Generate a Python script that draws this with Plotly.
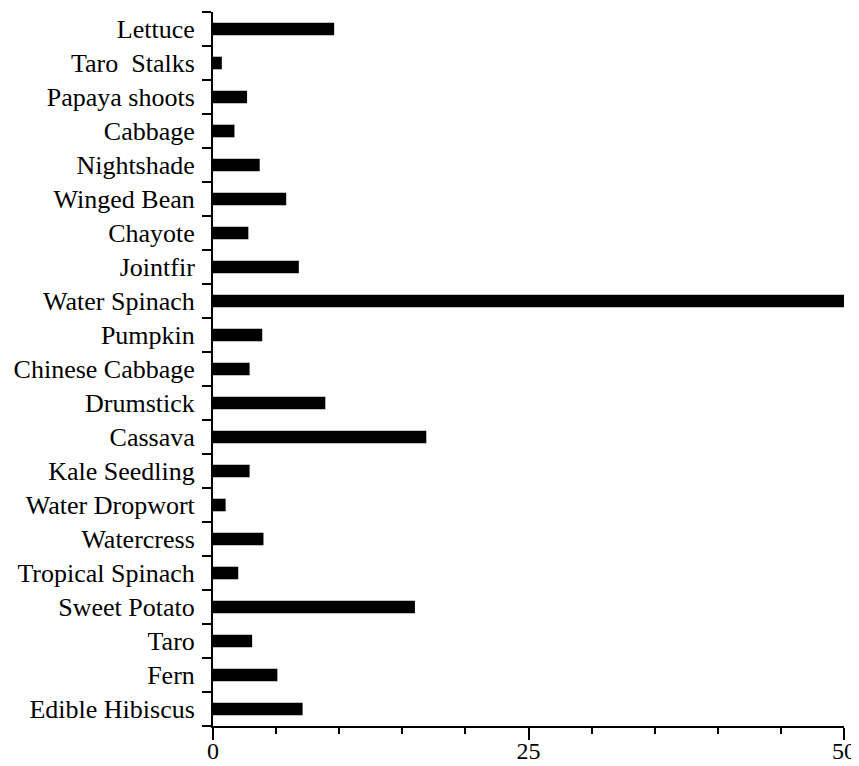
import plotly.graph_objects as go

categories = ["Lettuce", "Taro  Stalks", "Papaya shoots", "Cabbage", "Nightshade",
              "Winged Bean", "Chayote", "Jointfir", "Water Spinach", "Pumpkin",
              "Chinese Cabbage", "Drumstick", "Cassava", "Kale Seedling",
              "Water Dropwort", "Watercress", "Tropical Spinach", "Sweet Potato",
              "Taro", "Fern", "Edible Hibiscus"]
values = [9.6, 0.7, 2.7, 1.7, 3.7, 5.8, 2.8, 6.8, 50, 3.9, 2.9, 8.9, 16.9, 2.9,
          1.0, 4.0, 2.0, 16.0, 3.1, 5.1, 7.1]
x_tick_vals = [0, 25, 50]
x_tick_text = ["0", "25", "50"]

fig = go.Figure(go.Bar(
    y=categories, x=values, orientation="h",
    marker=dict(color="black", line=dict(width=0)),
    width=0.37,
))

font = "Liberation Serif, Times New Roman, serif"
fig.update_layout(
    width=852, height=757,
    margin=dict(l=205, r=16, t=4, b=39, autoexpand=False),
    paper_bgcolor="white", plot_bgcolor="white",
    showlegend=False,
    font=dict(family=font, color="black", size=26),
)
fig.update_xaxes(
    range=[0, 50], tickvals=x_tick_vals, ticktext=x_tick_text,
    showgrid=False, zeroline=False, showline=True, linecolor="black", linewidth=2,
    ticks="outside", ticklen=12, tickwidth=2, tickcolor="black",
    tickfont=dict(size=24, family=font), automargin=False, ticklabelstandoff=-10,
    minor=dict(dtick=5, tick0=0, ticks="outside", ticklen=6, tickwidth=1.5, tickcolor="black"),
)
fig.update_yaxes(
    categoryorder="array", categoryarray=categories[::-1],
    showgrid=False, zeroline=False, showline=True, linecolor="black", linewidth=2,
    ticks="outside", tickson="boundaries", ticklen=9, tickwidth=1.5, tickcolor="black",
    tickfont=dict(size=26, family=font), automargin=False, ticklabelstandoff=11,
)
fig.write_html("out.html")
